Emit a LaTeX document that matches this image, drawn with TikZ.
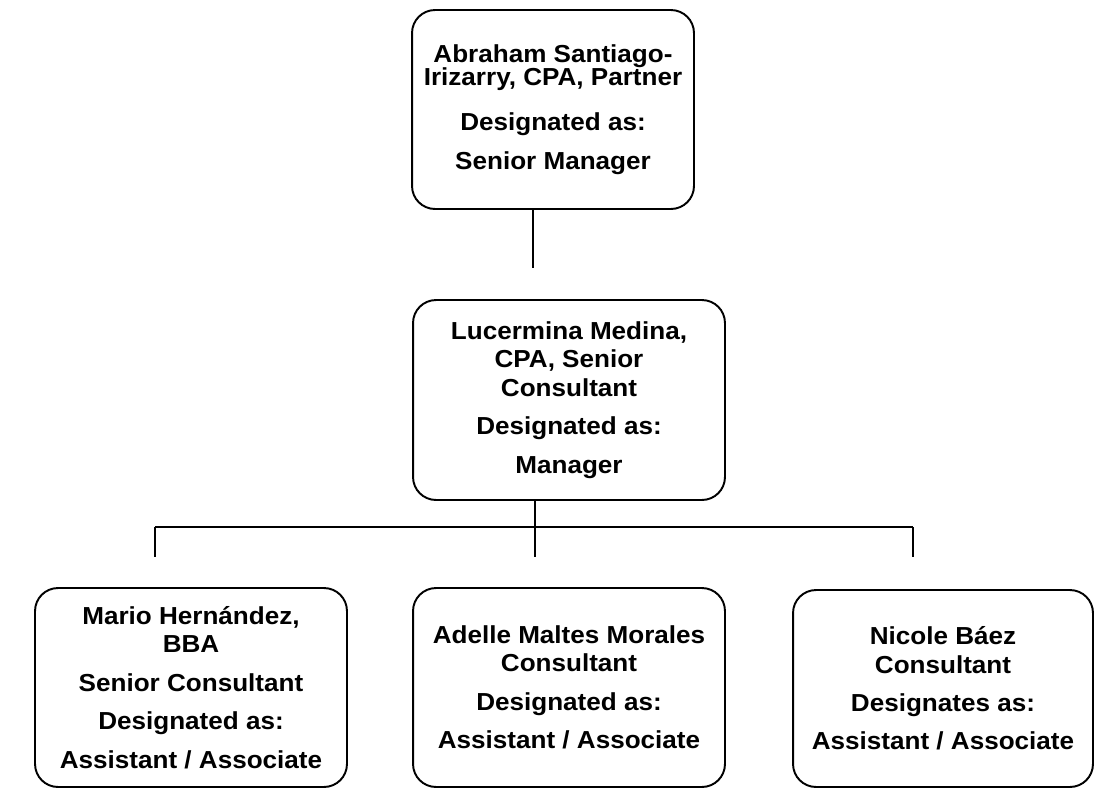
\documentclass[tikz,border=0pt]{standalone}
\usepackage{fontspec}
\setmainfont[FakeStretch=1.06]{Liberation Sans}
\usetikzlibrary{calc}
\newcommand{\grp}{\\[5.7pt]}

\begin{document}
\begin{tikzpicture}[x=0.02cm,y=-0.02cm,
    box/.style={rectangle, draw, rounded corners=0.46cm, line width=1.1pt,
      align=center, inner sep=0pt, font=\fontsize{14}{16.2}\selectfont\bfseries}]
        \useasboundingbox (0,0) rectangle (1094,788);

        \node[box, minimum width=5.64cm, minimum height=3.98cm] (root) at (553,109.5) {
            Abraham Santiago-\\[-3.1pt]
            Irizarry, CPA, Partner\\[9.4pt]
            Designated as:\grp
            Senior Manager};

        \node[box, minimum width=6.24cm, minimum height=4cm] (mgr) at (569,400) {
            Lucermina Medina,\\
            CPA, Senior\\
            Consultant\grp
            Designated as:\grp
            Manager};

        \node[box, minimum width=6.24cm, minimum height=3.98cm] (staff1) at (191,687.5) {
            Mario Hern\'andez,\\
            BBA\grp
            Senior Consultant\grp
            Designated as:\grp
            Assistant / Associate};

        \node[box, minimum width=6.24cm, minimum height=3.98cm] (staff2) at (569,687.5) {
            Adelle Maltes Morales\\
            Consultant\grp
            Designated as:\grp
            Assistant / Associate};

        \node[box, minimum width=6cm, minimum height=3.94cm] (staff3) at (943,688.5) {
            Nicole B\'aez\\
            Consultant\grp
            Designates as:\grp
            Assistant / Associate};

        % free ends of the connectors
        \coordinate (rootend) at (533,268);
        \coordinate (hub) at (535,527);
        \foreach \x [count=\i] in {155,535,913} {
            \coordinate (bus\i) at (\x,527);
            \coordinate (drop\i) at (\x,557);
        }

        \draw[line width=1.1pt] (root.south -| rootend) -- (rootend);
        \draw[line width=1.1pt] (mgr.south -| hub) -- (hub);
        \draw[line width=1.1pt] (bus1) -- (bus3);
        \foreach \i in {1,2,3} {
            \draw[line width=1.1pt] (bus\i) -- (drop\i);
        }

\end{tikzpicture}
\end{document}
